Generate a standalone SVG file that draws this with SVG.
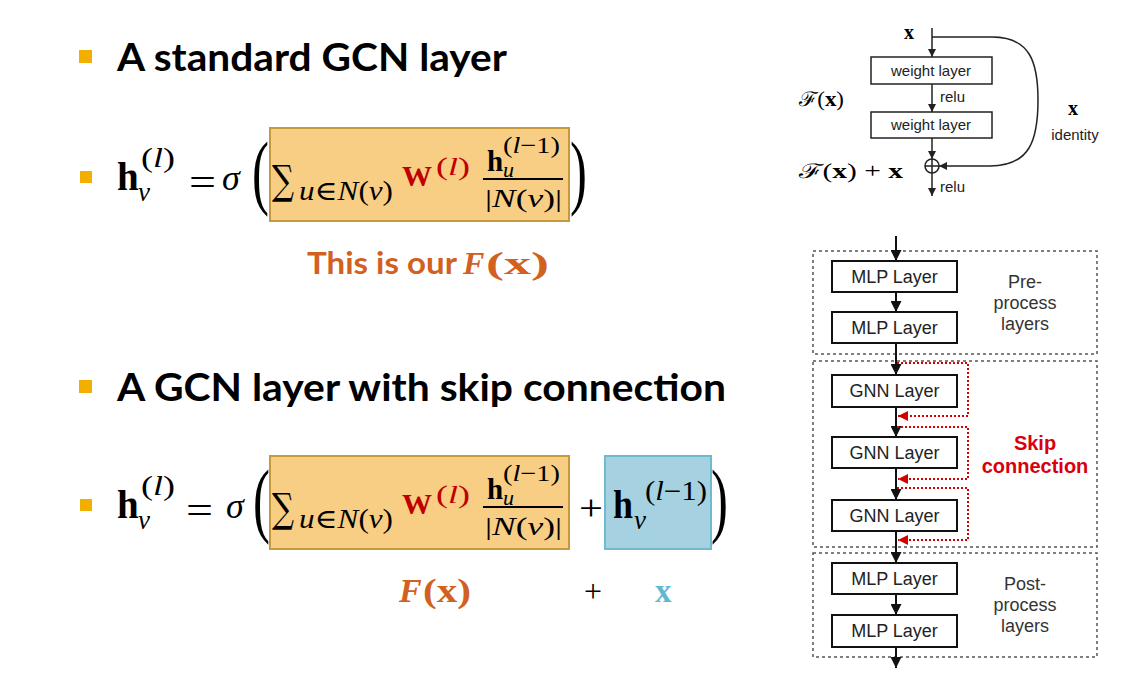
<svg xmlns="http://www.w3.org/2000/svg" width="1126" height="682" viewBox="0 0 1126 682">
<style>
.head{font-family:Lato,"Open Sans","Liberation Sans",sans-serif;font-weight:bold;font-size:38px;fill:#000}
.bul{fill:#f2af00}
.m{font-family:"Liberation Serif","DejaVu Serif",serif;fill:#000}
.sig{font-family:"DejaVu Serif",serif;fill:#000}
.b{font-weight:bold}
.i{font-style:italic}
.red{fill:#c00000}
.org{fill:#d2601f}
.blu{fill:#62b7d0}
.obox{fill:#f7ce83;stroke:#c69a3a;stroke-width:2}
.bbox{fill:#a5d1e1;stroke:#6fbad0;stroke-width:2}
.sans{font-family:"Liberation Sans",Arial,sans-serif}
.lay{fill:#fff;stroke:#111;stroke-width:2}
.laytxt{font-family:"Liberation Sans",Arial,sans-serif;font-size:18px;fill:#222;text-anchor:middle}
.wl{fill:#fff;stroke:#222;stroke-width:1.5}
.wltxt{font-family:"Liberation Sans",Arial,sans-serif;font-size:15px;fill:#222;text-anchor:middle}
.dash{fill:none;stroke:#555;stroke-width:1.5;stroke-dasharray:3 3}
.arr{stroke:#111;stroke-width:2;fill:none}
.arr1{stroke:#222;stroke-width:1.5;fill:none}
.skip{stroke:#d40000;stroke-width:2;stroke-dasharray:2 2;fill:none}
.note{font-family:"Liberation Sans",Arial,sans-serif;font-size:18px;fill:#333;text-anchor:middle}
</style>
<defs>
<marker id="ah" viewBox="0 0 10 10" refX="10" refY="5" markerWidth="11" markerHeight="11" markerUnits="userSpaceOnUse" orient="auto"><path d="M0,0 L10,5 L0,10 z" fill="#111"/></marker>
<marker id="ahs" viewBox="0 0 10 10" refX="10" refY="5" markerWidth="8" markerHeight="8" markerUnits="userSpaceOnUse" orient="auto"><path d="M0,0 L10,5 L0,10 z" fill="#222"/></marker>
<marker id="ahr" viewBox="0 0 10 10" refX="10" refY="5" markerWidth="11" markerHeight="10" markerUnits="userSpaceOnUse" orient="auto"><path d="M0,0 L10,5 L0,10 z" fill="#d40000"/></marker>
</defs>

<!-- Heading 1 -->
<g id="heading1">
<rect class="bul" x="79" y="50" width="13" height="13"/>
<text class="head" x="117" y="71" textLength="390" lengthAdjust="spacingAndGlyphs">A standard GCN layer</text>
</g>

<!-- Equation 1 -->
<g id="eq1">
<rect class="bul" x="80" y="171" width="12" height="12"/>
<text class="m b" x="117" y="190" font-size="39">h</text>
<text class="m i" x="138" y="201" font-size="27">v</text>
<text class="m" x="141" y="167" font-size="27" textLength="34" lengthAdjust="spacingAndGlyphs">(<tspan class="i">l</tspan>)</text>
<text class="m" x="189" y="196" font-size="40" textLength="27" lengthAdjust="spacingAndGlyphs">=</text>
<text class="m i" x="222" y="190" font-size="36">σ</text>
<text class="m" font-size="82" transform="translate(252,199) scale(0.62,1)">(</text>
<rect class="obox" x="270" y="128" width="299" height="93"/>
<text class="sig" x="272" y="194" font-size="40" textLength="22" lengthAdjust="spacingAndGlyphs">∑</text>
<text class="m" x="299" y="200" font-size="27" textLength="94" lengthAdjust="spacingAndGlyphs"><tspan class="i">u</tspan>∈<tspan class="i">N</tspan>(<tspan class="i">v</tspan>)</text>
<text class="m b red" x="402" y="186" font-size="30">W</text>
<text class="m red" x="436" y="175" font-size="26" textLength="34" lengthAdjust="spacingAndGlyphs">(<tspan class="i">l</tspan>)</text>
<text class="m b" x="487" y="171" font-size="29">h</text>
<text class="m i" x="503" y="177" font-size="22">u</text>
<text class="m" x="503" y="153" font-size="23" textLength="57" lengthAdjust="spacingAndGlyphs">(<tspan class="i">l</tspan>−1)</text>
<line x1="483" y1="179" x2="563" y2="179" stroke="#000" stroke-width="2"/>
<text class="m" x="485" y="207" font-size="26" textLength="77" lengthAdjust="spacingAndGlyphs">|<tspan class="i">N</tspan>(<tspan class="i">v</tspan>)|</text>
<text class="m" font-size="82" transform="translate(570,199) scale(0.62,1)">)</text>
<text x="307" y="274" font-size="31" class="org" style="font-family:Lato,'Open Sans','Liberation Sans',sans-serif;font-weight:bold" textLength="150" lengthAdjust="spacingAndGlyphs">This is our</text>
<text class="m b i org" x="463" y="274" font-size="32">F</text>
<text class="m b org" x="486" y="274" font-size="32" textLength="63" lengthAdjust="spacingAndGlyphs">(x)</text>
</g>

<!-- Heading 2 -->
<g id="heading2">
<rect class="bul" x="79" y="380" width="13" height="13"/>
<text class="head" x="117" y="401" textLength="609" lengthAdjust="spacingAndGlyphs">A GCN layer with skip connection</text>
</g>

<!-- Equation 2 -->
<g id="eq2">
<rect class="bul" x="80" y="499" width="12" height="12"/>
<text class="m b" x="117" y="518" font-size="39">h</text>
<text class="m i" x="138" y="529" font-size="27">v</text>
<text class="m" x="141" y="495" font-size="27" textLength="34" lengthAdjust="spacingAndGlyphs">(<tspan class="i">l</tspan>)</text>
<text class="m" x="186" y="524" font-size="40" textLength="27" lengthAdjust="spacingAndGlyphs">=</text>
<text class="m i" x="226" y="518" font-size="36">σ</text>
<text class="m" font-size="82" transform="translate(253,527) scale(0.62,1)">(</text>
<rect class="obox" x="270" y="456" width="299" height="93"/>
<text class="sig" x="272" y="522" font-size="40" textLength="22" lengthAdjust="spacingAndGlyphs">∑</text>
<text class="m" x="299" y="528" font-size="27" textLength="94" lengthAdjust="spacingAndGlyphs"><tspan class="i">u</tspan>∈<tspan class="i">N</tspan>(<tspan class="i">v</tspan>)</text>
<text class="m b red" x="402" y="514" font-size="30">W</text>
<text class="m red" x="436" y="503" font-size="26" textLength="34" lengthAdjust="spacingAndGlyphs">(<tspan class="i">l</tspan>)</text>
<text class="m b" x="487" y="499" font-size="29">h</text>
<text class="m i" x="503" y="505" font-size="22">u</text>
<text class="m" x="503" y="481" font-size="23" textLength="57" lengthAdjust="spacingAndGlyphs">(<tspan class="i">l</tspan>−1)</text>
<line x1="483" y1="507" x2="563" y2="507" stroke="#000" stroke-width="2"/>
<text class="m" x="485" y="535" font-size="26" textLength="77" lengthAdjust="spacingAndGlyphs">|<tspan class="i">N</tspan>(<tspan class="i">v</tspan>)|</text>
<text class="m" x="579" y="520" font-size="36" textLength="24" lengthAdjust="spacingAndGlyphs">+</text>
<rect class="bbox" x="605" y="456" width="106" height="93"/>
<text class="m b" x="613" y="518" font-size="39" textLength="20" lengthAdjust="spacingAndGlyphs">h</text>
<text class="m i" x="634" y="529" font-size="27">v</text>
<text class="m" x="645" y="500" font-size="27" textLength="62" lengthAdjust="spacingAndGlyphs">(<tspan class="i">l</tspan>−1)</text>
<text class="m" font-size="82" transform="translate(711,527) scale(0.62,1)">)</text>
<text class="m b i org" x="399" y="602" font-size="34">F</text>
<text class="m b org" x="423" y="602" font-size="34" textLength="48" lengthAdjust="spacingAndGlyphs">(x)</text>
<text class="m" x="584" y="602" font-size="32" textLength="18" lengthAdjust="spacingAndGlyphs">+</text>
<text class="m b blu" x="655" y="602" font-size="33">x</text>
</g>

<!-- ResNet block -->
<g id="resnet-labels">
<text class="m b" x="904" y="39" font-size="20">x</text>
<text x="799" y="106" font-size="20" textLength="45" lengthAdjust="spacingAndGlyphs"><tspan class="sig">ℱ</tspan><tspan class="m">(</tspan><tspan class="m b">x</tspan><tspan class="m">)</tspan></text>
<text x="799" y="178" font-size="20" textLength="104" lengthAdjust="spacingAndGlyphs"><tspan class="sig">ℱ</tspan><tspan class="m">(</tspan><tspan class="m b">x</tspan><tspan class="m">)  +  </tspan><tspan class="m b">x</tspan></text>
<text class="m b" x="1068" y="115" font-size="20">x</text>
<text class="wltxt" x="1075" y="140">identity</text>
<text class="wltxt" x="940" y="102" style="text-anchor:start">relu</text>
<text class="wltxt" x="940" y="192" style="text-anchor:start">relu</text>
</g>
<g id="weight1"><rect class="wl" x="871" y="57" width="121" height="27"/><text class="wltxt" x="931" y="76">weight layer</text></g>
<g id="weight2"><rect class="wl" x="871" y="112" width="121" height="26"/><text class="wltxt" x="931" y="130">weight layer</text></g>
<g id="sum"><circle cx="932" cy="166" r="7" fill="#fff" stroke="#222" stroke-width="1.5"/><path d="M925,166 H939 M932,159 V173" stroke="#222" stroke-width="1.5"/></g>
<g id="resnet-connectors">
<path class="arr1" d="M932,28 V57" marker-end="url(#ahs)"/>
<path class="arr1" d="M932,84 V112" marker-end="url(#ahs)"/>
<path class="arr1" d="M932,138 V159" marker-end="url(#ahs)"/>
<path class="arr1" d="M932,173 V196" marker-end="url(#ahs)"/>
<path class="arr1" d="M932,37 H992 C1030,37 1038,62 1038,100 C1038,140 1030,166 990,166 H939" marker-end="url(#ahs)"/>
</g>

<!-- GNN pipeline -->
<g id="group-pre"><rect class="dash" x="813" y="251" width="284" height="103"/>
<text class="note" x="1025" y="288">Pre-</text><text class="note" x="1025" y="309">process</text><text class="note" x="1025" y="330">layers</text></g>
<g id="group-gnn"><rect class="dash" x="813" y="361" width="284" height="186"/>
<text x="1035" y="450" font-size="20" font-weight="bold" fill="#d9000d" text-anchor="middle" class="sans">Skip</text>
<text x="1035" y="473" font-size="20" font-weight="bold" fill="#d9000d" text-anchor="middle" class="sans">connection</text></g>
<g id="group-post"><rect class="dash" x="813" y="553" width="284" height="104"/>
<text class="note" x="1025" y="590">Post-</text><text class="note" x="1025" y="611">process</text><text class="note" x="1025" y="632">layers</text></g>

<g id="mlp1"><rect class="lay" x="832" y="261" width="125" height="31"/><text class="laytxt" x="894.5" y="283">MLP Layer</text></g>
<g id="mlp2"><rect class="lay" x="832" y="312" width="125" height="31"/><text class="laytxt" x="894.5" y="334">MLP Layer</text></g>
<g id="gnn1"><rect class="lay" x="832" y="375" width="125" height="32"/><text class="laytxt" x="894.5" y="397">GNN Layer</text></g>
<g id="gnn2"><rect class="lay" x="832" y="437" width="125" height="31"/><text class="laytxt" x="894.5" y="459">GNN Layer</text></g>
<g id="gnn3"><rect class="lay" x="832" y="500" width="125" height="31"/><text class="laytxt" x="894.5" y="522">GNN Layer</text></g>
<g id="mlp3"><rect class="lay" x="832" y="563" width="125" height="31"/><text class="laytxt" x="894.5" y="585">MLP Layer</text></g>
<g id="mlp4"><rect class="lay" x="832" y="615" width="125" height="32"/><text class="laytxt" x="894.5" y="637">MLP Layer</text></g>

<g id="connectors">
<path class="arr" d="M896,236 V261" marker-end="url(#ah)"/>
<path class="arr" d="M896,292 V312" marker-end="url(#ah)"/>
<path class="arr" d="M896,343 V375" marker-end="url(#ah)"/>
<path class="arr" d="M896,407 V437" marker-end="url(#ah)"/>
<path class="arr" d="M896,468 V500" marker-end="url(#ah)"/>
<path class="arr" d="M896,531 V563" marker-end="url(#ah)"/>
<path class="arr" d="M896,594 V615" marker-end="url(#ah)"/>
<path class="arr" d="M896,647 V668" marker-end="url(#ah)"/>
<path class="skip" d="M897,363 H968 V416 H898" marker-end="url(#ahr)"/>
<path class="skip" d="M897,427 H968 V479 H898" marker-end="url(#ahr)"/>
<path class="skip" d="M897,488 H968 V540 H898" marker-end="url(#ahr)"/>
</g>
</svg>
